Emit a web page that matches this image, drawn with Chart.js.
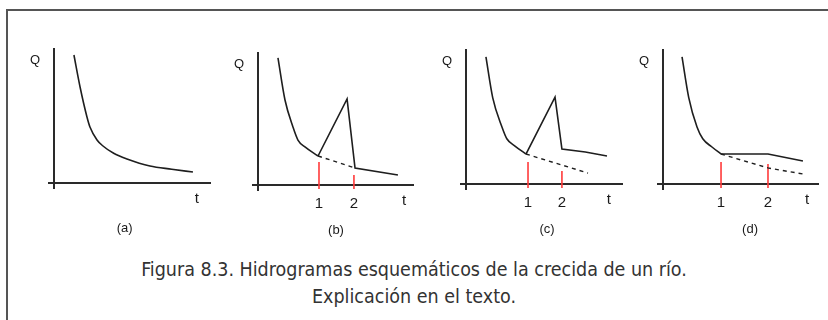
<!DOCTYPE html>
<html>
<head>
<meta charset="utf-8">
<script src="https://cdn.jsdelivr.net/npm/chart.js@4.4.0/dist/chart.umd.min.js"></script>
<style>
  html, body { margin: 0; padding: 0; background: #fff; }
  #wrap { position: relative; width: 828px; height: 320px; overflow: hidden; background: #fff; }
  #frame { position: absolute; left: 6px; top: 9px; width: 830px; height: 330px;
           border-left: 2px solid #555; border-top: 2px solid #555; }
  canvas { position: absolute; }
  #caption { position: absolute; left: 0; width: 828px; top: 256px; text-align: center;
             font-family: "DejaVu Sans Condensed", "DejaVu Sans", sans-serif; font-size: 19.5px;
             line-height: 27px; color: #333; }
</style>
</head>
<body>
<div id="wrap">
  <div id="frame"></div>
  <canvas id="ca"></canvas>
  <canvas id="cb"></canvas>
  <canvas id="cc"></canvas>
  <canvas id="cd"></canvas>
  <div id="caption">Figura 8.3. Hidrogramas esquemáticos de la crecida de un río.<br>Explicación en el texto.</div>
</div>
<script>
// ---- data (t, Q in arbitrary units 0..10) ----
// (a) recession only
var aCurveT = [1.27, 1.66, 2.10, 2.29, 2.74, 3.12, 3.80, 4.65, 6.11, 7.50, 8.85];
var aCurveQ = [9.48, 7.11, 4.89, 4.15, 3.19, 2.74, 2.20, 1.78, 1.26, 1.02, 0.81];

// (b) flood wave, back to recession
var bCurveT = [1.28, 1.73, 2.24, 2.56, 3.01, 3.85];
var bCurveQ = [9.55, 6.39, 4.36, 3.38, 2.86, 2.18];
var bWaveT = [3.85, 5.71, 6.22, 8.97];
var bWaveQ = [2.18, 6.47, 1.28, 0.75];
var bBaseT = [3.85, 6.22];
var bBaseQ = [2.18, 1.28];
var bMarks = [3.91, 6.15];
var bMarkTop = [1.73, 0.75];

// (c) flood wave, new higher recession
var cCurveT = [1.27, 1.70, 2.29, 2.60, 3.12, 3.82];
var cCurveQ = [9.41, 6.40, 4.22, 3.35, 2.81, 2.22];
var cWaveT = [3.82, 5.67, 6.11, 7.60, 8.98];
var cWaveQ = [2.22, 6.44, 2.59, 2.37, 2.07];
var cBaseT = [3.82, 7.77];
var cBaseQ = [2.22, 0.81];
var cMarks = [3.95, 6.11];
var cMarkTop = [1.63, 0.96];

// (d) flat plateau
var dCurveT = [1.22, 1.65, 2.18, 2.55, 3.14, 3.72];
var dCurveQ = [9.41, 6.40, 4.22, 3.35, 2.74, 2.22];
var dWaveT = [3.72, 6.73, 8.97];
var dWaveQ = [2.22, 2.22, 1.70];
var dBaseT = [3.72, 6.73, 8.97];
var dBaseQ = [2.22, 1.19, 0.74];
var dMarks = [3.72, 6.73];
var dMarkTop = [1.63, 1.48];

var tickNames = ['1', '2'];

function pts(xs, ys) { return xs.map(function (x, i) { return {x: x, y: ys[i]}; }); }

var axesPlugin = {
  id: 'axesPlugin',
  beforeDatasetsDraw: function (chart) {
    var ctx = chart.ctx, xs = chart.scales.x, ys = chart.scales.y;
    var o = chart.options.plugins.axesPlugin;
    var x0 = xs.getPixelForValue(0), y0 = ys.getPixelForValue(0);
    ctx.save();
    ctx.strokeStyle = '#2a2a2a';
    ctx.lineWidth = 2;
    ctx.beginPath();
    ctx.moveTo(x0 - 6, y0); ctx.lineTo(xs.getPixelForValue(10), y0);
    ctx.moveTo(x0, ys.getPixelForValue(10)); ctx.lineTo(x0, y0 + 6);
    ctx.stroke();
    ctx.fillStyle = '#1a1a1a';
    ctx.font = '13px "Liberation Sans", Arial, sans-serif';
    ctx.textAlign = 'center';
    ctx.textBaseline = 'middle';
    ctx.fillText('Q', x0 - 19, ys.getPixelForValue(9.1));
    ctx.font = '15px "Liberation Sans", Arial, sans-serif';
    ctx.fillText('t', xs.getPixelForValue(o.tAt), y0 + 16);
    (o.marks || []).forEach(function (m, i) {
      ctx.fillText(tickNames[i], xs.getPixelForValue(m), y0 + 19);
    });
    ctx.font = '13px "Liberation Sans", Arial, sans-serif';
    ctx.fillText(o.label, xs.getPixelForValue(o.labelAt), y0 + 45);
    ctx.restore();
  }
};

function makePanel(id, box, curve, wave, base, marks, markTop, label, labelAt, tAt) {
  var padL = 40, padT = 10, padR = 15, padB = 60;
  var cv = document.getElementById(id);
  var w = box.xEnd - box.ox, h = box.oy - box.yTop;
  cv.width = w + padL + padR; cv.height = h + padT + padB;
  cv.style.left = (box.ox - padL) + 'px';
  cv.style.top = (box.yTop - padT) + 'px';
  var line = {borderColor: '#1e1e1e', borderWidth: 1.6, pointRadius: 0, fill: false, clip: false};
  var ds = [Object.assign({data: curve, tension: 0.35, cubicInterpolationMode: 'monotone'}, line)];
  if (wave) ds.push(Object.assign({data: wave, tension: 0}, line));
  if (base) ds.push(Object.assign({}, line, {data: base, tension: 0, borderWidth: 1.4, borderDash: [4, 4]}));
  (marks || []).forEach(function (m, i) {
    ds.push({data: [{x: m, y: markTop[i]}, {x: m, y: -0.3}], borderColor: '#ff3b3b', borderWidth: 1.6,
             pointRadius: 0, clip: false});
  });
  new Chart(cv, {
    type: 'line',
    data: {datasets: ds},
    options: {
      responsive: false, animation: false, events: [],
      layout: {padding: {left: padL, top: padT, right: padR, bottom: padB}},
      scales: {
        x: {type: 'linear', min: 0, max: 10, display: false},
        y: {type: 'linear', min: 0, max: 10, display: false}
      },
      plugins: {legend: {display: false}, tooltip: {enabled: false},
                axesPlugin: {label: label, labelAt: labelAt, tAt: tAt, marks: marks}}
    },
    plugins: [axesPlugin]
  });
}

makePanel('ca', {ox: 54, oy: 183, xEnd: 211, yTop: 48}, pts(aCurveT, aCurveQ), null, null, [], [], '(a)', 4.5, 9.1);
makePanel('cb', {ox: 258, oy: 185, xEnd: 414, yTop: 52}, pts(bCurveT, bCurveQ), pts(bWaveT, bWaveQ), pts(bBaseT, bBaseQ), bMarks, bMarkTop, '(b)', 5.0, 9.36);
makePanel('cc', {ox: 466, oy: 184, xEnd: 623, yTop: 49}, pts(cCurveT, cCurveQ), pts(cWaveT, cWaveQ), pts(cBaseT, cBaseQ), cMarks, cMarkTop, '(c)', 5.16, 9.1);
makePanel('cd', {ox: 663, oy: 184, xEnd: 819, yTop: 49}, pts(dCurveT, dCurveQ), pts(dWaveT, dWaveQ), pts(dBaseT, dBaseQ), dMarks, dMarkTop, '(d)', 5.58, 9.23);
</script>
</body>
</html>
